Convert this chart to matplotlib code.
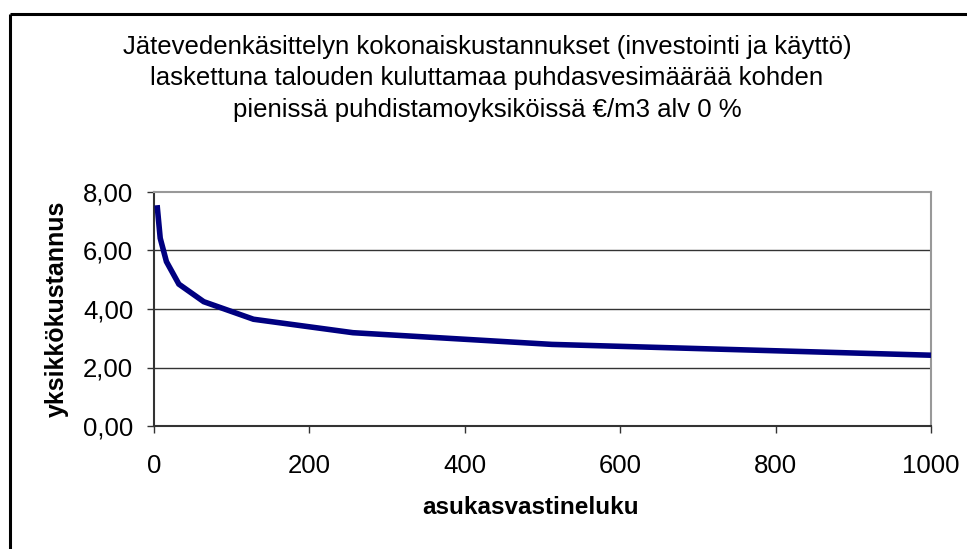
import matplotlib
matplotlib.use("Agg")
import matplotlib.pyplot as plt
from matplotlib.ticker import FuncFormatter, FixedLocator
from matplotlib.lines import Line2D

plt.rcParams['font.family'] = ['Liberation Sans', 'DejaVu Sans']

# Data
asukasvastineluku = [4, 8, 16, 32, 64, 128, 256, 512, 1000]
yksikkokustannus = [7.55, 6.42, 5.62, 4.85, 4.25, 3.65, 3.19, 2.79, 2.42]
x_ticks = [0, 200, 400, 600, 800, 1000]
y_ticks = [0, 2, 4, 6, 8]
title = ("Jätevedenkäsittelyn kokonaiskustannukset (investointi ja käyttö)\n"
         "laskettuna talouden kuluttamaa puhdasvesimäärää kohden\n"
         "pienissä puhdistamoyksiköissä €/m3 alv 0 %")

W, H = 967, 549
fig = plt.figure(figsize=(W / 100, H / 100), dpi=100)

# outer frame (cropped at right and bottom)
fig.add_artist(Line2D([10 / W, 1.0], [1 - 14 / H, 1 - 14 / H], transform=fig.transFigure,
                      color='black', lw=2.2, solid_capstyle='butt'))
fig.add_artist(Line2D([10 / W, 10 / W], [1 - 14 / H, 0.0], transform=fig.transFigure,
                      color='black', lw=2.2, solid_capstyle='butt'))

ax = fig.add_axes([154 / W, 1 - 426 / H, 777 / W, 234 / H])
ax.plot(asukasvastineluku, yksikkokustannus, color='#000080', lw=4.0,
        solid_joinstyle='miter', solid_capstyle='butt', clip_on=False, zorder=3)

ax.set_xlim(0, 1000)
ax.set_ylim(0, 8)
ax.xaxis.set_major_locator(FixedLocator(x_ticks))
ax.yaxis.set_major_locator(FixedLocator(y_ticks))
ax.yaxis.set_major_formatter(FuncFormatter(lambda v, p: f"{v:.2f}".replace('.', ',')))

for y in y_ticks[1:-1]:
    ax.axhline(y, color='#333333', lw=1.0, zorder=1)

for s in ['top', 'right']:
    ax.spines[s].set_color('#999999')
    ax.spines[s].set_linewidth(1.5)
for s in ['left', 'bottom']:
    ax.spines[s].set_color('#333333')
    ax.spines[s].set_linewidth(1.5)

ax.tick_params(axis='both', direction='out', length=5, width=1.0, color='#333333',
               labelsize=18.5, labelcolor='black')
ax.tick_params(axis='y', pad=10)
ax.tick_params(axis='x', pad=15)

ax.set_xlabel('asukasvastineluku', fontsize=17.5, fontweight='bold')
ax.xaxis.label.set_verticalalignment('center')
ax.xaxis.set_label_coords((531 - 154) / 777, -(507 - 426) / 234)
ax.set_ylabel('yksikkökustannus', fontsize=18, fontweight='bold', labelpad=10)

fig.text(487 / W, 1 - 78.5 / H, title, ha='center', va='center', fontsize=18.5,
         linespacing=1.4)

fig.savefig('out.png', dpi=100, facecolor='white')
